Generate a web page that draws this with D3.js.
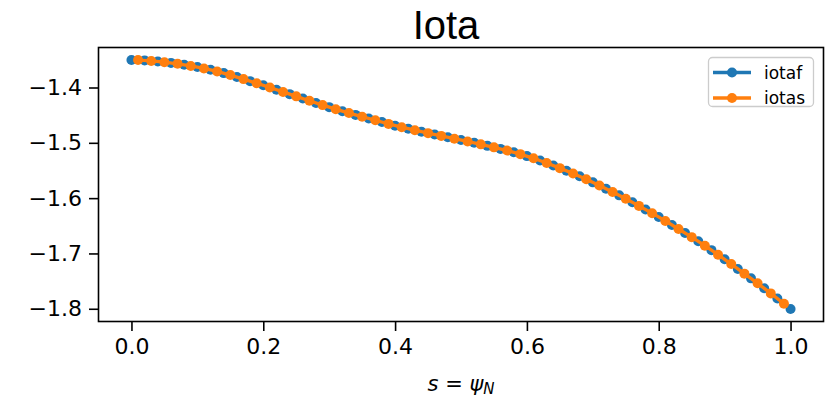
<!DOCTYPE html>
<html><head><meta charset="utf-8">
<script src="https://cdn.jsdelivr.net/npm/d3@7"></script>
<style>html,body{margin:0;padding:0;background:#fff;} svg{display:block;}</style>
</head><body>
<svg id="chart" width="833" height="399"></svg>
<script>
// ---- data ----
const sFull = [0.00,0.02,0.04,0.06,0.08,0.10,0.12,0.14,0.16,0.18,0.20,0.22,0.24,0.26,0.28,0.30,0.32,0.34,0.36,0.38,0.40,0.42,0.44,0.46,0.48,0.50,0.52,0.54,0.56,0.58,0.60,0.62,0.64,0.66,0.68,0.70,0.72,0.74,0.76,0.78,0.80,0.82,0.84,0.86,0.88,0.90,0.92,0.94,0.96,0.98,1.00];
const iotaf = [-1.3502,-1.3510,-1.3530,-1.3555,-1.3590,-1.3630,-1.3680,-1.3740,-1.3810,-1.3885,-1.3960,-1.4040,-1.4120,-1.4200,-1.4280,-1.4355,-1.4430,-1.4495,-1.4560,-1.4625,-1.4690,-1.4745,-1.4800,-1.4850,-1.4900,-1.4950,-1.5000,-1.5055,-1.5110,-1.5170,-1.5240,-1.5320,-1.5410,-1.5505,-1.5605,-1.5715,-1.5830,-1.5950,-1.6075,-1.6205,-1.6340,-1.6485,-1.6630,-1.6780,-1.6940,-1.7105,-1.7280,-1.7450,-1.7630,-1.7815,-1.8005];
const sHalf = [0.01,0.03,0.05,0.07,0.09,0.11,0.13,0.15,0.17,0.19,0.21,0.23,0.25,0.27,0.29,0.31,0.33,0.35,0.37,0.39,0.41,0.43,0.45,0.47,0.49,0.51,0.53,0.55,0.57,0.59,0.61,0.63,0.65,0.67,0.69,0.71,0.73,0.75,0.77,0.79,0.81,0.83,0.85,0.87,0.89,0.91,0.93,0.95,0.97,0.99];
const iotas = [-1.3504,-1.3520,-1.3542,-1.3572,-1.3610,-1.3655,-1.3710,-1.3775,-1.3848,-1.3922,-1.4000,-1.4080,-1.4160,-1.4240,-1.4318,-1.4392,-1.4462,-1.4528,-1.4592,-1.4658,-1.4718,-1.4772,-1.4825,-1.4875,-1.4925,-1.4975,-1.5028,-1.5082,-1.5140,-1.5205,-1.5280,-1.5365,-1.5458,-1.5555,-1.5660,-1.5772,-1.5890,-1.6012,-1.6140,-1.6272,-1.6412,-1.6558,-1.6705,-1.6860,-1.7022,-1.7192,-1.7365,-1.7540,-1.7722,-1.7910];
const xTicks = [0.0,0.2,0.4,0.6,0.8,1.0];
const xTickLabels = ["0.0","0.2","0.4","0.6","0.8","1.0"];
const yTicks = [-1.4,-1.5,-1.6,-1.7,-1.8];
const yTickLabels = ["\u22121.4","\u22121.5","\u22121.6","\u22121.7","\u22121.8"];
const seriesNames = ["iotaf","iotas"];
const seriesColors = ["#1f77b4","#ff7f0e"];

// ---- layout ----
const L = 98.5, R = 823.5, T = 47.5, B = 321.5;
const svg = d3.select("#chart");
svg.append("rect").attr("width",833).attr("height",399).attr("fill","#fff");

const allY = iotaf.concat(iotas);
const yMin = d3.min(allY), yMax = d3.max(allY);
const yPad = (yMax - yMin) * 0.05;
const x = d3.scaleLinear().domain([-0.05, 1.05]).range([L, R]);
const y = d3.scaleLinear().domain([yMin - yPad, yMax + yPad]).range([B, T]);

const tickFont = "'DejaVu Sans', sans-serif";

// series
const series = [
  {s: sFull, v: iotaf, color: seriesColors[0]},
  {s: sHalf, v: iotas, color: seriesColors[1]}
];
const line = d3.line().x(d => x(d[0])).y(d => y(d[1]));
series.forEach(se => {
  const pts = se.s.map((s,i) => [s, se.v[i]]);
  const g = svg.append("g");
  g.append("path").datum(pts).attr("d", line).attr("fill","none")
    .attr("stroke", se.color).attr("stroke-width", 3.3).attr("stroke-linejoin","round").attr("stroke-linecap","square");
  g.selectAll("circle").data(pts).join("circle")
    .attr("cx", d => x(d[0])).attr("cy", d => y(d[1])).attr("r", 5).attr("fill", se.color);
});

// axes
const xAxis = d3.axisBottom(x).tickValues(xTicks).tickFormat((d,i) => xTickLabels[i]).tickSize(9.5).tickPadding(7);
const yAxis = d3.axisLeft(y).tickValues(yTicks).tickFormat((d,i) => yTickLabels[i]).tickSize(9.5).tickPadding(7);
const gx = svg.append("g").attr("transform", `translate(0,${B})`).call(xAxis);
const gy = svg.append("g").attr("transform", `translate(${L},0)`).call(yAxis);
[gx, gy].forEach(g => {
  g.select(".domain").remove();
  g.selectAll(".tick line").attr("stroke","#000").attr("stroke-width",1.6);
  g.selectAll(".tick text").attr("fill","#000").style("font-family", tickFont).style("font-size","22px");
});

// spines
svg.append("rect").attr("x", L).attr("y", T).attr("width", R-L).attr("height", B-T)
  .attr("fill","none").attr("stroke","#000").attr("stroke-width",1.6);

// title
svg.append("text").attr("x", 446).attr("y", 39).attr("text-anchor","middle")
  .style("font-family","'Liberation Sans', Arial, sans-serif").style("font-size","40px").attr("fill","#000").text("Iota");

// x label: s = ψ_N
const xl = svg.append("text").attr("x", (L+R)/2).attr("y", 391).attr("text-anchor","middle")
  .style("font-family", tickFont).style("font-size","21px").attr("fill","#000");
xl.append("tspan").style("font-style","italic").text("s");
xl.append("tspan").text(" = ");
xl.append("tspan").style("font-style","italic").text("\u03c8");
xl.append("tspan").style("font-style","italic").style("font-size","15px").attr("dy", 3).text("N");

// legend
const lg = svg.append("g");
lg.append("rect").attr("x", 708.5).attr("y", 57.5).attr("width", 105).attr("height", 49).attr("rx", 4)
  .attr("fill","#fff").attr("fill-opacity",0.8).attr("stroke","#cccccc").attr("stroke-width",1.3);
seriesNames.forEach((name, i) => {
  const yy = 72.5 + i * 25.5;
  lg.append("line").attr("x1", 713).attr("x2", 751).attr("y1", yy).attr("y2", yy)
    .attr("stroke", seriesColors[i]).attr("stroke-width", 3.3);
  lg.append("circle").attr("cx", 732).attr("cy", yy).attr("r", 5).attr("fill", seriesColors[i]);
  lg.append("text").attr("x", 764).attr("y", yy + 6).style("font-family", tickFont).style("font-size","17px")
    .attr("fill","#000").text(name);
});
</script>
</body></html>
